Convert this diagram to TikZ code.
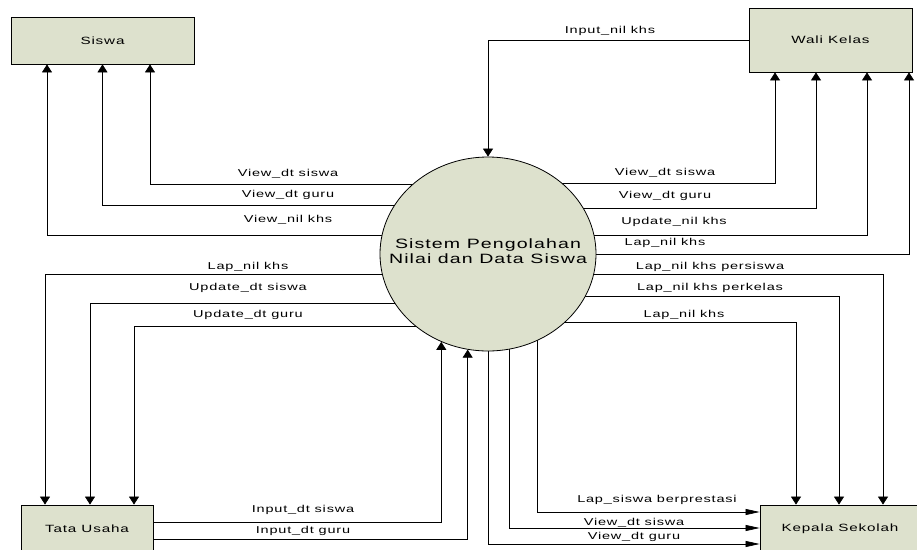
\documentclass[tikz,border=0pt]{standalone}
\usepackage{fontspec}
\setmainfont{Liberation Sans}[FakeStretch=1.45,LetterSpace=8]
\usetikzlibrary{arrows.meta,shapes.geometric,backgrounds}
\definecolor{dfdgreen}{RGB}{221,225,205}

\begin{document}
\begin{tikzpicture}[
        x=1pt, y=-1pt,
        font=\fontsize{10}{12}\selectfont,
        entity/.style={rectangle, draw, fill=dfdgreen, line width=0.8pt, inner sep=0pt, font=\fontsize{10.5}{12}\selectfont},
        proc/.style={ellipse, draw, fill=dfdgreen, line width=0.8pt, inner sep=0pt, font=\fontsize{13.5}{15}\selectfont},
        flow/.style={-{Triangle[length=8pt,width=10pt]}, line width=0.7pt},
        flowh/.style={-{Triangle[length=14pt,width=6pt]}, line width=0.7pt},
        lbl/.style={inner sep=0pt}
    ]
        \useasboundingbox (0,0) rectangle (917,549);

        % entities and process
        \node[entity, minimum width=183pt, minimum height=47pt] (siswa) at (102.5,40.5) {Siswa};
        \node[entity, minimum width=163pt, minimum height=64pt] (walikelas) at (830.5,40) {Wali Kelas};
        \node[entity, minimum width=132pt, minimum height=48pt] (tatausaha) at (87,529) {Tata Usaha};
        \node[entity, minimum width=160pt, minimum height=48pt] (kepsek) at (840,529) {Kepala Sekolah};
        \node[proc, minimum width=216pt, minimum height=194pt] (sistem) at (488,254)
            {\smash{\makebox[0pt]{\raisebox{-3pt}{\begin{tabular}{@{}c@{}}Sistem Pengolahan\\Nilai dan Data Siswa\end{tabular}}}}};

        % flows into the process
        \draw[flow] (walikelas.west) -| (sistem.north);
        \draw[flow] ([yshift=7pt]tatausaha.east) -| (sistem.242);
        \draw[flow] ([yshift=-10pt]tatausaha.east) -| (sistem.258);

        % flows out of the process
        \begin{scope}[on background layer]
            \draw[flow] (sistem.center |- 0,184) -| ([xshift=47.5pt]siswa.south);
            \draw[flow] (sistem.center |- 0,205) -| (siswa.south);
            \draw[flow] (sistem.center |- 0,235) -| ([xshift=-55.5pt]siswa.south);

            \draw[flow] (sistem.center |- 0,183) -| ([xshift=-55.5pt]walikelas.south);
            \draw[flow] (sistem.center |- 0,208) -| ([xshift=-14.5pt]walikelas.south);
            \draw[flow] (sistem.center |- 0,235) -| ([xshift=36.5pt]walikelas.south);
            \draw[flow] (sistem.center |- 0,254) -| ([xshift=78.5pt]walikelas.south);

            \draw[flow] (sistem.center |- 0,274) -| ([xshift=-42pt]tatausaha.north);
            \draw[flow] (sistem.center |- 0,303) -| ([xshift=3pt]tatausaha.north);
            \draw[flow] (sistem.center |- 0,326) -| ([xshift=47pt]tatausaha.north);

            \draw[flow] (sistem.center |- 0,274) -| ([xshift=43pt]kepsek.north);
            \draw[flow] (sistem.center |- 0,296) -| ([xshift=-1pt]kepsek.north);
            \draw[flow] (sistem.center |- 0,322) -| ([xshift=-44pt]kepsek.north);

            \draw[flowh] (sistem.center -| 537,0) |- ([yshift=17pt]kepsek.west);
            \draw[flowh] (sistem.center -| 509,0) |- ([yshift=1pt]kepsek.west);
            \draw[flowh] (sistem.center) |- ([yshift=-15pt]kepsek.west);
        \end{scope}

        % flow labels
        \node[lbl] (inkhs) at (610,31) {Input\_nil khs};
        \node[lbl] (svsis) at (288,174) {View\_dt siswa};
        \node[lbl] (svgur) at (288,195) {View\_dt guru};
        \node[lbl] (svkhs) at (288,220) {View\_nil khs};
        \node[lbl] (wvsis) at (665,173) {View\_dt siswa};
        \node[lbl] (wvgur) at (665,196) {View\_dt guru};
        \node[lbl] (wupkhs) at (674,222) {Update\_nil khs};
        \node[lbl] (wlapkhs) at (665,243) {Lap\_nil khs};
        \node[lbl] (tlapkhs) at (248,267) {Lap\_nil khs};
        \node[lbl] (tupsis) at (248,288) {Update\_dt siswa};
        \node[lbl] (tupgur) at (248,315) {Update\_dt guru};
        \node[lbl] (tinsis) at (303,510) {Input\_dt siswa};
        \node[lbl] (tingur) at (303,531) {Input\_dt guru};
        \node[lbl] (klapsis) at (710,267) {Lap\_nil khs persiswa};
        \node[lbl] (klapkel) at (710,288) {Lap\_nil khs perkelas};
        \node[lbl] (klapkhs) at (684,315) {Lap\_nil khs};
        \node[lbl] (kprest) at (657,500) {Lap\_siswa berprestasi};
        \node[lbl] (kvsis) at (634,523) {View\_dt siswa};
        \node[lbl] (kvgur) at (634,537) {View\_dt guru};
    \end{tikzpicture}
\end{document}
